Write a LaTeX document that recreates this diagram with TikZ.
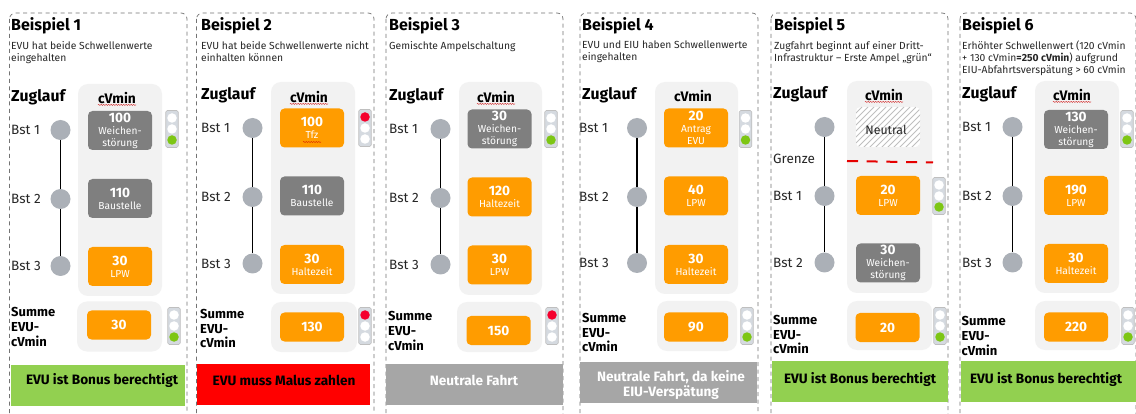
\documentclass[tikz,border=0pt]{standalone}
\usepackage{fontspec}
\setmainfont{Fira Sans}
\usetikzlibrary{calc,positioning,decorations.pathmorphing}

\definecolor{dborange}{HTML}{FF9C00}
\definecolor{dbgrau}{HTML}{7F7F7F}
\definecolor{dbkreis}{HTML}{ABB0B7}
\definecolor{dbflaeche}{HTML}{F2F2F2}
\definecolor{dbgruen}{HTML}{92D050}
\definecolor{dbneutral}{HTML}{A6A6A6}
\definecolor{dbampel}{HTML}{D5DAE0}
\definecolor{lampegruen}{HTML}{7DC614}
\definecolor{lamperot}{HTML}{F5002D}

\tikzset{
    rahmen/.style={draw=black!55,dashed,dash pattern=on 4pt off 3.5pt,line width=.7pt,rounded corners=6pt},
    titel/.style={anchor=west,inner sep=0pt,font=\fontsize{16}{18}\selectfont\bfseries},
    beschr/.style={anchor=north west,inner sep=0pt,align=left,font=\fontsize{10.3}{11.8}\selectfont,text=black!85},
    zuglauf/.style={anchor=west,inner sep=0pt,font=\fontsize{15.8}{18}\selectfont\bfseries},
    cvmin/.style={inner sep=0pt,font=\fontsize{13.8}{14}\selectfont\bfseries},
    summe/.style={anchor=west,inner sep=0pt,align=left,font=\fontsize{13}{14.7}\selectfont\bfseries},
    bstname/.style={anchor=west,inner sep=0pt,font=\fontsize{13.5}{15}\selectfont,text=black!85},
    halt/.style={circle,fill=dbkreis,minimum size=20pt,inner sep=0pt},
    gleis/.style={line width=1.2pt,black},
    flaeche/.style={fill=dbflaeche,rounded corners=10pt},
    kasten/.style={rounded corners=4.5pt,minimum width=64pt,minimum height=39pt,inner sep=0pt,
        align=center,text=white,font=\fontsize{10.2}{12}\selectfont},
    okasten/.style={kasten,fill=dborange},
    gkasten/.style={kasten,fill=dbgrau},
    sumkasten/.style={okasten,minimum height=29pt},
    ampelbox/.style={draw=black!25,fill=dbampel,rounded corners=1.5pt,line width=.6pt,minimum width=12.5pt,minimum height=37pt,inner sep=0pt},
    lampe/.style={circle,minimum size=9.5pt,inner sep=0pt},
    balken/.style={minimum height=41pt,inner sep=0pt},
    balkentext/.style={inner sep=0pt,align=center,font=\fontsize{13.6}{14.5}\selectfont\bfseries},
    kringel/.style={draw=red!80!black,line width=.35pt,decorate,decoration={snake,amplitude=.5pt,segment length=2.5pt}},
}
% name, x, y, oben, unten
\newcommand{\ampel}[5]{
    \node[ampelbox] (#1) at (#2,#3) {};
    \node[lampe,fill=#4] (#1o) at ($(#1)+(0,-11)$) {};
    \node[lampe,fill=white] (#1m) at (#1) {};
    \node[lampe,fill=#5] (#1u) at ($(#1)+(0,11)$) {};
}
% name, x, y, text x, text
\newcommand{\bst}[5]{
    \node[halt] (#1) at (#2,#3) {};
    \node[bstname] (#1n) at (#4,#3) {#5};
}
\newcommand{\zahl}[1]{{\fontsize{13.6}{13}\selectfont\bfseries #1}}

\begin{document}
\begin{tikzpicture}[x=1pt,y=-1pt]
    \clip (0,0) rectangle (1136,414);
    \fill[white] (0,0) rectangle (1136,414);

    % Beispiel 1
    \draw[rahmen] (9.5,13) rectangle (187,440);
    \node[titel] (t1) at (11,26) {Beispiel 1};
    \node[beschr] (d1) at (11,41) {EVU hat beide Schwellenwerte\\eingehalten};
    \node[zuglauf] (z1) at (11,97) {Zuglauf};
    \fill[flaeche] (78,84) rectangle (162,296);
    \node[cvmin] (c1) at (117,98) {cVmin};
    \draw[kringel] ($(c1.south west)+(0,1)$) -- ($(c1.south east)+(0,1)$);
    \bst{s11}{60.5}{130}{11}{Bst 1}
    \bst{s12}{60.5}{199}{11}{Bst 2}
    \bst{s13}{60.5}{266}{11}{Bst 3}
    \draw[gleis] (s11) -- (s12);
    \draw[gleis] (s12) -- (s13);
    \node[gkasten] (b11) at (120,130.5) {\zahl{100}\\Weichen-\\störung};
    \node[gkasten] (b12) at (120,198.5) {\zahl{110}\\Baustelle};
    \node[okasten] (b13) at (120,266.5) {\zahl{30}\\LPW};
    \ampel{a1}{172}{129}{white}{lampegruen}
    \fill[flaeche] (77,301.5) rectangle (162,351.5);
    \node[sumkasten] (e1) at (119,325) {\zahl{30}};
    \ampel{f1}{174}{326}{white}{lampegruen}
    \node[summe] (g1) at (11,327) {Summe\\EVU-\\cVmin};
    \node[balken,fill=dbgruen,minimum width=174pt] (r1) at (98,385) {};
    \node[balkentext] (x1) at (102,380) {EVU ist Bonus berechtigt};

    % Beispiel 2
    \draw[rahmen] (196.5,13) rectangle (374,440);
    \node[titel] (t2) at (201,26) {Beispiel 2};
    \node[beschr] (d2) at (201,41) {EVU hat beide Schwellenwerte nicht\\einhalten können};
    \node[zuglauf] (z2) at (201,95) {Zuglauf};
    \fill[flaeche] (271,82) rectangle (355,294);
    \node[cvmin] (c2) at (309,97) {cVmin};
    \draw[kringel] ($(c2.south west)+(0,1)$) -- ($(c2.south east)+(0,1)$);
    \bst{s21}{252.5}{128}{201}{Bst 1}
    \bst{s22}{252.5}{197}{201}{Bst 2}
    \bst{s23}{252.5}{263.5}{201}{Bst 3}
    \draw[gleis] (s21) -- (s22);
    \draw[gleis] (s22) -- (s23);
    \node[okasten] (b21) at (312,128) {\zahl{100}\\Tfz};
    \draw[kringel] ($(b21)+(-9,14)$) -- ($(b21)+(9,14)$);
    \node[gkasten] (b22) at (312,196) {\zahl{110}\\Baustelle};
    \node[okasten] (b23) at (312,264.5) {\zahl{30}\\Haltezeit};
    \ampel{a2}{365}{128}{lamperot}{white}
    \fill[flaeche] (271,302) rectangle (357,352);
    \node[sumkasten] (e2) at (312,327) {\zahl{130}};
    \ampel{f2}{365}{326}{lamperot}{white}
    \node[summe] (g2) at (200,328.5) {Summe\\EVU-\\cVmin};
    \node[balken,fill=red,minimum width=173.5pt] (r2) at (283.25,384.5) {};
    \node[balkentext] (x2) at (284,380) {EVU muss Malus zahlen};

    % Beispiel 3
    \draw[rahmen] (386,13) rectangle (563,440);
    \node[titel] (t3) at (389,26) {Beispiel 3};
    \node[beschr] (d3) at (389,41) {Gemischte Ampelschaltung};
    \node[zuglauf] (z3) at (389,96) {Zuglauf};
    \fill[flaeche] (459,82) rectangle (542,295);
    \node[cvmin] (c3) at (496,97) {cVmin};
    \draw[kringel] ($(c3.south west)+(0,1)$) -- ($(c3.south east)+(0,1)$);
    \bst{s31}{440.5}{129}{389}{Bst 1}
    \bst{s32}{440.5}{198}{389}{Bst 2}
    \bst{s33}{440.5}{264.5}{389}{Bst 3}
    \draw[gleis] (s31) -- (s32);
    \draw[gleis] (s32) -- (s33);
    \node[gkasten] (b31) at (499.5,129) {\zahl{30}\\Weichen-\\störung};
    \node[okasten] (b32) at (499.5,197) {\zahl{120}\\Haltezeit};
    \node[okasten] (b33) at (499.5,265) {\zahl{30}\\LPW};
    \ampel{a3}{551}{129}{white}{lampegruen}
    \fill[flaeche] (457,302) rectangle (542,352);
    \node[sumkasten] (e3) at (498.5,330.5) {\zahl{150}};
    \ampel{f3}{552}{326}{lamperot}{white}
    \node[summe] (g3) at (388,331) {Summe\\EVU-\\cVmin};
    \node[balken,fill=dbneutral,minimum width=177pt] (r3) at (474.5,384.5) {};
    \node[balkentext,text=white] (x3) at (474,380) {Neutrale Fahrt};

    % Beispiel 4
    \draw[rahmen] (580,13) rectangle (758,440);
    \node[titel] (t4) at (582,26) {Beispiel 4};
    \node[beschr] (d4) at (582,41) {EVU und EIU haben Schwellenwerte\\eingehalten};
    \node[zuglauf] (z4) at (582,95) {Zuglauf};
    \fill[flaeche] (655,82) rectangle (738,294);
    \node[cvmin] (c4) at (693,96) {cVmin};
    \bst{s41}{637}{128}{579}{Bst 1}
    \bst{s42}{637}{197}{579}{Bst 2}
    \bst{s43}{637}{263}{579}{Bst 3}
    \draw[gleis] (s41) -- (s42);
    \draw[gleis] (s42) -- (s43);
    \node[okasten] (b41) at (696,128) {\zahl{20}\\Antrag\\EVU};
    \node[okasten] (b42) at (696,196) {\zahl{40}\\LPW};
    \node[okasten] (b43) at (696,264.5) {\zahl{30}\\Haltezeit};
    \ampel{a4}{745.5}{129}{white}{lampegruen}
    \fill[flaeche] (657,301) rectangle (737,351);
    \node[sumkasten] (e4) at (696,327) {\zahl{90}};
    \ampel{f4}{747}{326}{white}{lampegruen}
    \node[summe] (g4) at (582,332.5) {Summe\\EVU-\\cVmin};
    \node[balken,fill=dbneutral,minimum width=177pt] (r4) at (668.5,382.5) {};
    \node[balkentext,text=white] (x4) at (671,385) {Neutrale Fahrt, da keine\\EIU-Verspätung};

    % Beispiel 5
    \draw[rahmen] (771,13) rectangle (948,440);
    \node[titel] (t5) at (774,26) {Beispiel 5};
    \node[beschr] (d5) at (774,41) {Zugfahrt beginnt auf einer Dritt-\\Infrastruktur – Erste Ampel „grün“};
    \node[zuglauf] (z5) at (773,94) {Zuglauf};
    \fill[flaeche] (847,81) rectangle (932,293);
    \node[cvmin] (c5) at (884,95) {cVmin};
    \draw[kringel] ($(c5.south west)+(0,1)$) -- ($(c5.south east)+(0,1)$);
    \node[halt] (s50) at (824.5,127) {};
    \node[bstname] (s5g) at (773,159) {Grenze};
    \bst{s51}{824.5}{196}{773}{Bst 1}
    \bst{s52}{824.5}{262.5}{773}{Bst 2}
    \draw[gleis] (s50) -- (s51);
    \draw[gleis] (s51) -- (s52);
    \begin{scope}
        \clip[rounded corners=4.5pt] (856,107) rectangle (920,147);
        \fill[white] (856,107) rectangle (920,147);
        \foreach \x in {856,862,...,970}
        \draw[black!25,line width=1pt] (\x,107)--(\x-50,157);
    \end{scope}
    \node[inner sep=0pt,font=\fontsize{12.3}{15}\selectfont,text=black!85] (n5) at (886,130) {Neutral};
    \coordinate (g5l) at (847,161);
    \coordinate (g5r) at (933,162.5);
    \draw[red!90!black,line width=2pt,dash pattern=on 11pt off 8.7pt] (g5l) -- (g5r);
    \node[okasten] (b52) at (888,195.5) {\zahl{20}\\LPW};
    \node[gkasten] (b53) at (888,263) {\zahl{30}\\Weichen-\\störung};
    \ampel{a5}{939}{196}{white}{lampegruen}
    \fill[flaeche] (847,301) rectangle (932,350);
    \node[sumkasten] (e5) at (887.5,327.5) {\zahl{20}};
    \ampel{f5}{940}{326}{white}{lampegruen}
    \node[summe] (g5) at (773,334.5) {Summe\\EVU-\\cVmin};
    \node[balken,fill=dbgruen,minimum width=176.5pt] (r5) at (859.75,381.5) {};
    \node[balkentext] (x5) at (860,379) {EVU ist Bonus berechtigt};

    % Beispiel 6
    \draw[rahmen] (960,13) rectangle (1136,440);
    \node[titel] (t6) at (962,26) {Beispiel 6};
    \node[beschr] (d6) at (962,41) {Erhöhter Schwellenwert (120 cVmin\\+ 130 cVmin\textbf{=250 cVmin}) aufgrund\\EIU-Abfahrtsverspätung > 60 cVmin};
    \node[zuglauf] (z6) at (962,94) {Zuglauf};
    \fill[flaeche] (1035,81) rectangle (1119,293);
    \node[cvmin] (c6) at (1072,95) {cVmin};
    \draw[kringel] ($(c6.south west)+(0,1)$) -- ($(c6.south east)+(0,1)$);
    \bst{s61}{1012.5}{127}{962}{Bst 1}
    \bst{s62}{1012.5}{196}{962}{Bst 2}
    \bst{s63}{1012.5}{262.5}{962}{Bst 3}
    \draw[gleis] (s61) -- (s62);
    \draw[gleis] (s62) -- (s63);
    \node[gkasten] (b61) at (1076,129.5) {\zahl{130}\\Weichen-\\störung};
    \node[okasten] (b62) at (1076,195.5) {\zahl{190}\\LPW};
    \node[okasten] (b63) at (1076,263.5) {\zahl{30}\\Haltezeit};
    \ampel{a6}{1127}{129}{white}{lampegruen}
    \fill[flaeche] (1035,301) rectangle (1120,350);
    \node[sumkasten] (e6) at (1076,327) {\zahl{220}};
    \ampel{f6}{1128}{326}{white}{lampegruen}
    \node[summe] (g6) at (961.5,336) {Summe\\EVU-\\cVmin};
    \node[balken,fill=dbgruen,minimum width=175pt] (r6) at (1048.5,381.5) {};
    \node[balkentext] (x6) at (1046,379) {EVU ist Bonus berechtigt};
\end{tikzpicture}
\end{document}
